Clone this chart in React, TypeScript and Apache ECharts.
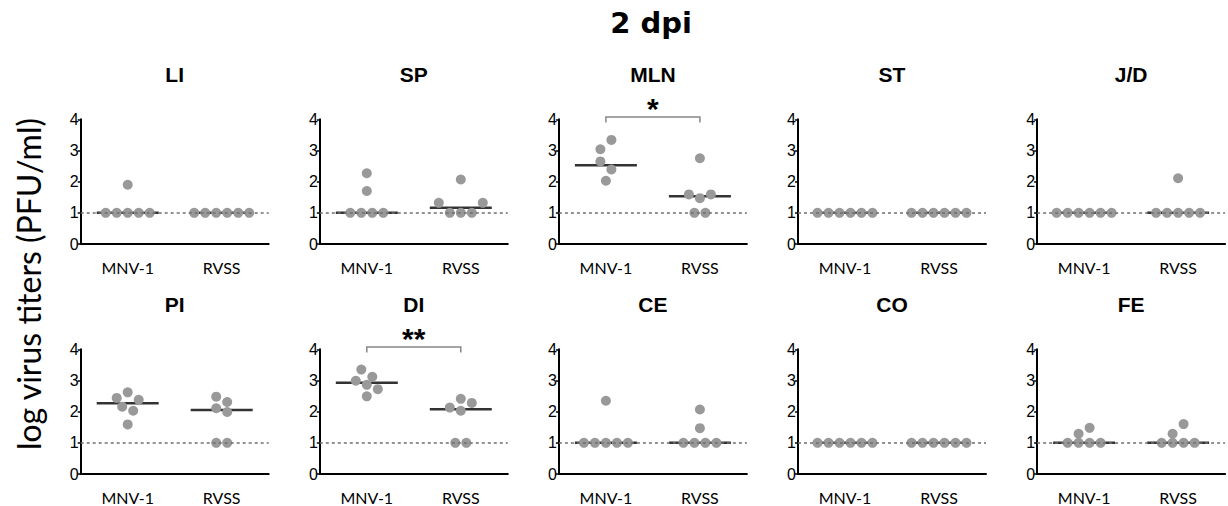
import React, { useEffect, useRef } from 'react';
import * as echarts from 'echarts';

// ---------- data ----------
const mainTitle = '2 dpi';
const yAxisTitle = 'log virus titers (PFU/ml)';
const panelNames = ['LI', 'SP', 'MLN', 'ST', 'J/D', 'PI', 'DI', 'CE', 'CO', 'FE'];
const groups = ['MNV-1', 'RVSS'];
const yTicks = [0, 1, 2, 3, 4];
const detectionLimit = 1;

// log10 titers per mouse (order = left-to-right reading within a row)
const mnv1Titers = [
  [1, 1, 1.9, 1, 1, 1],
  [2.27, 1.7, 1, 1, 1, 1],
  [3.04, 3.34, 2.65, 2.39, 2.03],
  [1, 1, 1, 1, 1, 1],
  [1, 1, 1, 1, 1, 1],
  [2.44, 2.62, 2.38, 2.16, 2.03, 1.59],
  [3.35, 3.12, 2.99, 2.86, 2.72, 2.49],
  [2.35, 1, 1, 1, 1, 1],
  [1, 1, 1, 1, 1, 1],
  [1.29, 1.48, 1, 1, 1, 1],
];
const rvssTiters = [
  [1, 1, 1, 1, 1, 1],
  [2.07, 1.32, 1, 1, 1, 1.32],
  [2.75, 1.59, 1.47, 1.59, 1, 1],
  [1, 1, 1, 1, 1, 1],
  [2.11, 1, 1, 1, 1, 1],
  [2.48, 2.31, 2.11, 1.99, 1, 1],
  [2.13, 2.41, 2.28, 2.03, 1, 1],
  [2.07, 1.47, 1, 1, 1, 1],
  [1, 1, 1, 1, 1, 1],
  [1.29, 1.6, 1, 1, 1, 1],
];
const mnv1Medians = [1, 1, 2.53, 1, 1, 2.27, 2.93, 1, 1, 1];
const rvssMedians = [1, 1.16, 1.53, 1, 1, 2.05, 2.08, 1, 1, 1];
const significance = ['', '', '*', '', '', '', '**', '', '', ''];

// ---------- layout ----------
const GRID_LEFT0 = 80.7;
const GRID_DX = 239.1;
const GRID_W = 188;
const ROW_TOPS = [119.3, 349.3];
const GRID_H = 124.7;
const DOT_SPACING = 11;
const DOT_SIZE = 10;
const DOT_COLOR = '#999999';

function swarmOffsets(values: number[], unitPx: number, thresholdPx: number, spacing: number) {
  const order = values.map((_, i) => i).sort((a, b) => values[b] - values[a] || a - b);
  const offsets = new Array(values.length).fill(0);
  let cluster: number[] = [];
  let top = Infinity;
  const flush = () => {
    const members = [...cluster].sort((a, b) => a - b);
    members.forEach((idx, k) => {
      offsets[idx] = (k - (members.length - 1) / 2) * spacing;
    });
  };
  for (const idx of order) {
    if (cluster.length && (top - values[idx]) * unitPx < thresholdPx) cluster.push(idx);
    else {
      if (cluster.length) flush();
      cluster = [idx];
      top = values[idx];
    }
  }
  if (cluster.length) flush();
  return offsets;
}

export default function App() {
  const ref = useRef<HTMLDivElement>(null);
  useEffect(() => {
    const chart = echarts.init(ref.current!, undefined, { renderer: 'svg' });
    const yMax = yTicks[yTicks.length - 1];
    const unitPx = GRID_H / (yMax - yTicks[0]);

    const grids: any[] = [];
    const xAxes: any[] = [];
    const yAxes: any[] = [];
    const series: any[] = [];
    const graphics: any[] = [];

    graphics.push({
      type: 'text',
      x: 651,
      y: 23,
      style: {
        text: mainTitle,
        textAlign: 'center',
        textVerticalAlign: 'middle',
        font: 'bold 29px "DejaVu Sans"',
        fill: '#000',
      },
    });
    graphics.push({
      type: 'text',
      x: 28,
      y: 284,
      rotation: Math.PI / 2,
      style: {
        text: yAxisTitle,
        textAlign: 'center',
        textVerticalAlign: 'middle',
        font: '32px Lato',
        fill: '#000',
      },
    });

    panelNames.forEach((name, p) => {
      const row = Math.floor(p / 5);
      const col = p % 5;
      const left = GRID_LEFT0 + col * GRID_DX;
      const top = ROW_TOPS[row];
      grids.push({ left, top, width: GRID_W, height: GRID_H, containLabel: false });
      xAxes.push({
        type: 'category',
        gridIndex: p,
        data: groups,
        boundaryGap: true,
        axisLine: { lineStyle: { color: '#000', width: 2 } },
        axisTick: { alignWithLabel: true, length: 6, lineStyle: { color: '#000', width: 1.5 } },
        axisLabel: { color: '#000', fontSize: 16, lineHeight: 14, fontFamily: 'Lato', margin: 16 },
        splitLine: { show: false },
      });
      yAxes.push({
        type: 'value',
        gridIndex: p,
        min: yTicks[0],
        max: yMax,
        interval: 1,
        axisLine: { show: true, lineStyle: { color: '#000', width: 2 } },
        axisTick: { show: true, length: 3, lineStyle: { color: '#000', width: 1.5 } },
        axisLabel: { color: '#000', fontSize: 16, fontFamily: '"Liberation Sans", Arial', margin: 2 },
        splitLine: { show: false },
      });
      graphics.push({
        type: 'text',
        x: left + GRID_W / 2,
        y: top - 45,
        style: {
          text: name,
          textAlign: 'center',
          textVerticalAlign: 'middle',
          font: 'bold 21px "Liberation Sans", Arial',
          fill: '#000',
        },
      });

      // median lines + detection-limit dashed line
      series.push({
        type: 'scatter',
        xAxisIndex: p,
        yAxisIndex: p,
        z: 2,
        symbol: 'rect',
        symbolSize: [62, 2.5],
        itemStyle: { color: '#000' },
        silent: true,
        data: [
          [0, mnv1Medians[p]],
          [1, rvssMedians[p]],
        ],
        markLine: {
          silent: true,
          symbol: ['none', 'none'],
          label: { show: false },
          lineStyle: { color: '#6f6f6f', type: [3, 3], width: 1.5 },
          data: [{ yAxis: detectionLimit }],
        },
      });

      // dots
      const dotData: any[] = [];
      [mnv1Titers[p], rvssTiters[p]].forEach((vals, g) => {
        const offs = swarmOffsets(vals, unitPx, 10.5, DOT_SPACING);
        vals.forEach((v, i) => {
          dotData.push({ value: [g, v], symbolOffset: [offs[i], 0] });
        });
      });
      series.push({
        type: 'scatter',
        xAxisIndex: p,
        yAxisIndex: p,
        z: 3,
        symbol: 'circle',
        symbolSize: DOT_SIZE,
        itemStyle: { color: DOT_COLOR, opacity: 1 },
        silent: true,
        data: dotData,
      });

      // significance bracket
      if (significance[p]) {
        const mark = significance[p];
        series.push({
          type: 'custom',
          xAxisIndex: p,
          yAxisIndex: p,
          z: 4,
          silent: true,
          clip: false,
          data: [[0, yMax]],
          renderItem: (_params: any, api: any) => {
            const a = api.coord([0, yMax + 0.07]);
            const b = api.coord([1, yMax + 0.07]);
            return {
              type: 'group',
              children: [
                {
                  type: 'polyline',
                  shape: {
                    points: [
                      [a[0], a[1] + 5.5],
                      [a[0], a[1]],
                      [b[0], b[1]],
                      [b[0], b[1] + 5.5],
                    ],
                  },
                  style: { stroke: '#888', lineWidth: 1.5, fill: null },
                },
                {
                  type: 'text',
                  style: {
                    text: mark,
                    x: (a[0] + b[0]) / 2,
                    y: a[1] - 9,
                    textAlign: 'center',
                    textVerticalAlign: 'middle',
                    font: 'bold 30px "Liberation Sans", Arial',
                    fill: '#000',
                  },
                },
              ],
            };
          },
        });
      }
    });

    chart.setOption({
      animation: false,
      backgroundColor: '#fff',
      grid: grids,
      xAxis: xAxes,
      yAxis: yAxes,
      series,
      graphic: graphics,
    });
    return () => chart.dispose();
  }, []);
  return <div ref={ref} style={{ position: 'absolute', left: 0, top: 0, width: 1228, height: 506 }} />;
}
